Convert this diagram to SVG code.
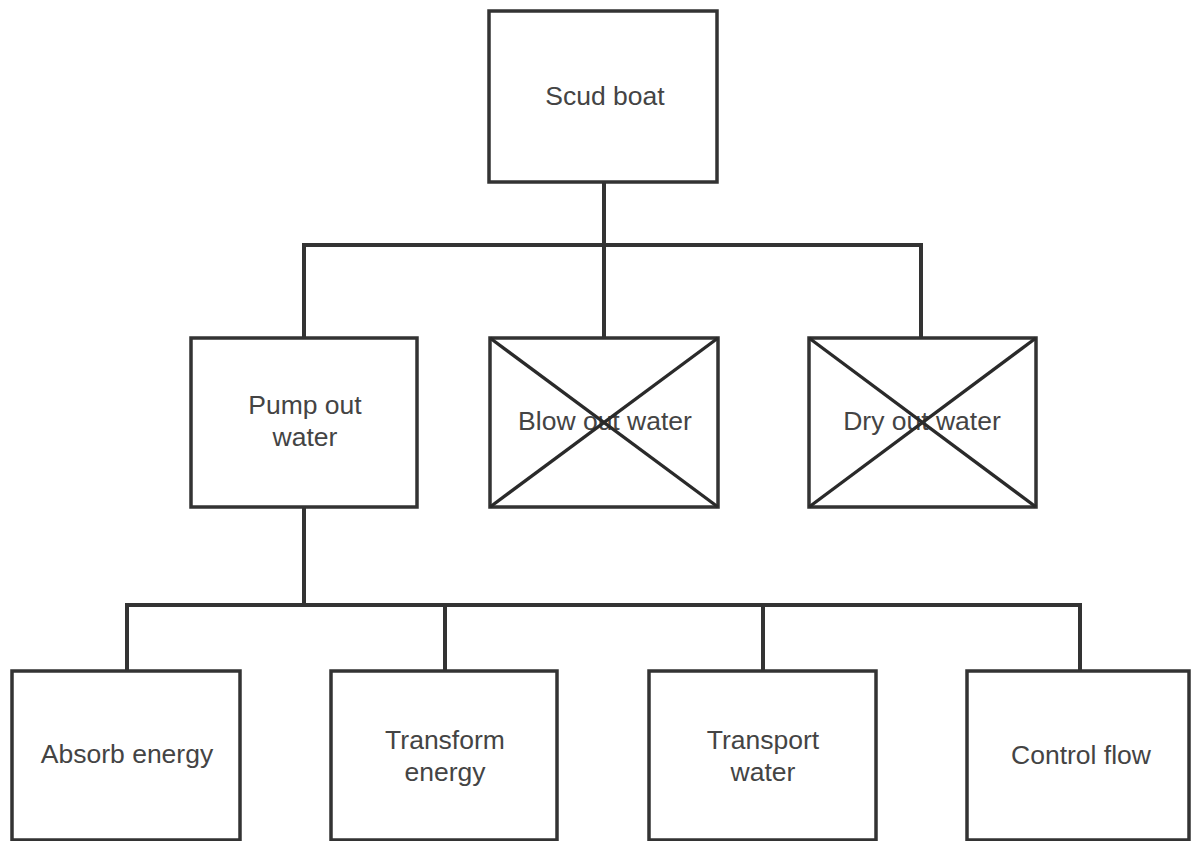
<svg xmlns="http://www.w3.org/2000/svg" width="1192" height="841" viewBox="0 0 1192 841">
<style>
.box{fill:#fff;stroke:#333;stroke-width:3.5}
.x{stroke:#2a2a2a;stroke-width:3.3}
.con{fill:none;stroke:#333;stroke-width:4}
text{font-family:"Liberation Sans",Arial,sans-serif;font-size:26.5px;fill:#444;text-anchor:middle}
</style>
<rect width="1192" height="841" fill="#fff"/>
<g id="connectors">
<line class="con" x1="604" y1="182" x2="604" y2="245"/>
<line class="con" x1="302" y1="245" x2="923" y2="245"/>
<line class="con" x1="304" y1="243" x2="304" y2="338"/>
<line class="con" x1="604" y1="245" x2="604" y2="338"/>
<line class="con" x1="921" y1="243" x2="921" y2="338"/>
<line class="con" x1="304" y1="507" x2="304" y2="605"/>
<line class="con" x1="125" y1="605" x2="1082" y2="605"/>
<line class="con" x1="127" y1="603" x2="127" y2="671"/>
<line class="con" x1="445" y1="605" x2="445" y2="671"/>
<line class="con" x1="763" y1="605" x2="763" y2="671"/>
<line class="con" x1="1080" y1="603" x2="1080" y2="671"/>
</g>
<g id="scud-boat">
<rect class="box" x="489" y="11" width="228" height="171"/>
<text x="605" y="105">Scud boat</text>
</g>
<g id="pump-out-water">
<rect class="box" x="191" y="338" width="226" height="169"/>
<text x="305" y="414">Pump out</text>
<text x="305" y="446">water</text>
</g>
<g id="blow-out-water">
<rect class="box" x="490" y="338" width="228" height="169"/>
<text x="605" y="430">Blow out water</text>
<line class="x" x1="490" y1="338" x2="718" y2="507"/>
<line class="x" x1="718" y1="338" x2="490" y2="507"/>
</g>
<g id="dry-out-water">
<rect class="box" x="809" y="338" width="227" height="169"/>
<text x="922" y="430">Dry out water</text>
<line class="x" x1="809" y1="338" x2="1036" y2="507"/>
<line class="x" x1="1036" y1="338" x2="809" y2="507"/>
</g>
<g id="absorb-energy">
<rect class="box" x="12" y="671" width="228" height="169"/>
<text x="127" y="763">Absorb energy</text>
</g>
<g id="transform-energy">
<rect class="box" x="331" y="671" width="226" height="169"/>
<text x="445" y="749">Transform</text>
<text x="445" y="781">energy</text>
</g>
<g id="transport-water">
<rect class="box" x="649" y="671" width="227" height="169"/>
<text x="763" y="749">Transport</text>
<text x="763" y="781">water</text>
</g>
<g id="control-flow">
<rect class="box" x="967" y="671" width="222" height="169"/>
<text x="1081" y="764">Control flow</text>
</g>
</svg>
